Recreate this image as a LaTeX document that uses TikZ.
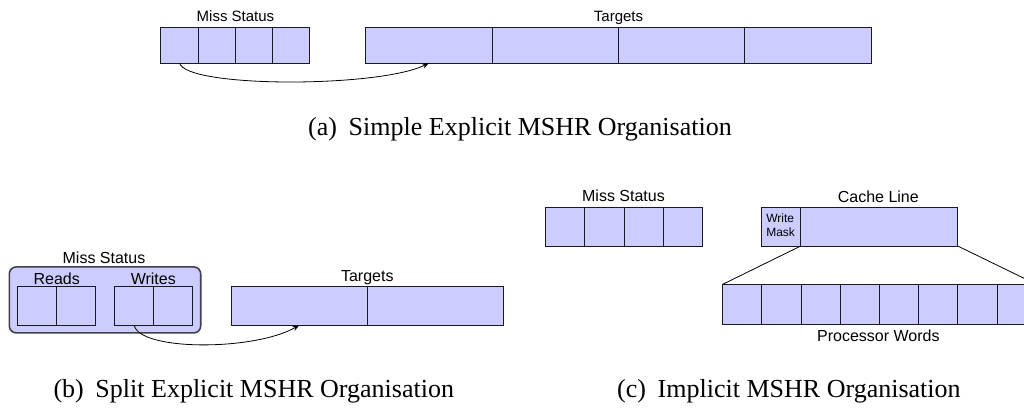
\documentclass[tikz,border=0pt]{standalone}
\usepackage{fontspec}
\setmainfont{Liberation Serif}
\newfontfamily\labfont{Liberation Sans}
\usetikzlibrary{arrows.meta}
\definecolor{cellfill}{RGB}{204,204,255}
\definecolor{edge}{RGB}{25,25,35}
\definecolor{frame}{RGB}{65,65,75}
\tikzset{
  cell/.style={draw=edge, fill=cellfill, line width=1pt, inner sep=0pt, outer sep=0pt},
  labA/.style={font=\labfont\fontsize{15}{18}\selectfont, inner sep=0pt, anchor=base},
  labB/.style={font=\labfont\fontsize{16}{19}\selectfont, inner sep=0pt, anchor=base},
  masktext/.style={font=\labfont\fontsize{12}{14.4}\selectfont, align=left},
  captext/.style={font=\fontsize{26}{30}\selectfont, inner sep=0pt, anchor=base west},
  conn/.style={-{Stealth[length=7pt,width=5pt]}, line width=0.8pt},
  wire/.style={line width=0.8pt}
}
\newcommand{\subgap}{\hspace{0.45em}}
\begin{document}
\begin{tikzpicture}[x=1pt, y=-1pt]
\useasboundingbox (0,0) rectangle (1024,407);
\clip (0,0) rectangle (1024,407);

% ---------- (a) simple explicit organisation ----------
\foreach \i in {0,...,3}
  \node[cell, minimum width=37.25pt, minimum height=36pt] (ma\i) at ({179.6+37.25*\i},45) {};
\foreach \i in {0,...,3}
  \node[cell, minimum width=126.3pt, minimum height=36pt] (ta\i) at ({429.1+126.3*\i},45) {};
\node[labA] (maLabel) at (235.5,21) {Miss Status};
\node[labA] (taLabel) at (618.5,21) {Targets};
\draw[conn] (ma0.south) .. controls +(6,25) and +(-50,25) .. (ta0.south);
\node[captext] (capA) at (308,135) {(a)\subgap Simple Explicit MSHR Organisation};

% ---------- (b) split explicit organisation ----------
\node[draw=frame, fill=cellfill, line width=1.6pt, rounded corners=7pt,
      minimum width=191.4pt, minimum height=66pt, inner sep=0pt] (msb) at (105,299.9) {};
\foreach \i in {0,1}
  \node[cell, minimum width=39pt, minimum height=39pt] (rb\i) at ({36.8+39*\i},305.6) {};
\foreach \i in {0,1}
  \node[cell, minimum width=39pt, minimum height=39pt] (wb\i) at ({134.2+39*\i},305.6) {};
\node[labB] (msbLabel) at (104,263.3) {Miss Status};
\node[labB] (rbLabel) at (56.7,284) {Reads};
\node[labB] (wbLabel) at (153.3,284) {Writes};
\foreach \i in {0,1}
  \node[cell, minimum width=136.2pt, minimum height=39pt] (tb\i) at ({299.4+136.2*\i},305.6) {};
\node[labB] (tbLabel) at (367.3,281.5) {Targets};
\draw[conn] (wb0.south) .. controls +(5,26) and +(-45,26) .. (tb0.south);
\node[captext] (capB) at (53.3,397.7) {(b)\subgap Split Explicit MSHR Organisation};

% ---------- (c) implicit organisation ----------
\foreach \i in {0,...,3}
  \node[cell, minimum width=39.15pt, minimum height=39pt] (mc\i) at ({565.3+39.15*\i},227) {};
\node[labB] (mcLabel) at (623.5,201.5) {Miss Status};
\node[cell, minimum width=39.7pt, minimum height=39pt] (wm) at (780.9,226.5) {};
\node[masktext, inner sep=0pt] (wmText) at (780.6,225.5) {Write\\Mask};
\node[cell, minimum width=157pt, minimum height=39pt] (cl) at (879.2,226.5) {};
\node[labB] (clLabel) at (878.3,202.5) {Cache Line};
\foreach \i in {0,...,7}
  \node[cell, minimum width=39.2pt, minimum height=40pt] (pw\i) at ({742.3+39.2*\i},304.3) {};
\node[labB] (pwLabel) at (878.3,341) {Processor Words};
\draw[wire] (wm.south east) -- (pw0.north west);
\draw[wire] (cl.south east) -- (pw7.north east);
\node[captext] (capC) at (617,397.7) {(c)\subgap Implicit MSHR Organisation};
\end{tikzpicture}
\end{document}
